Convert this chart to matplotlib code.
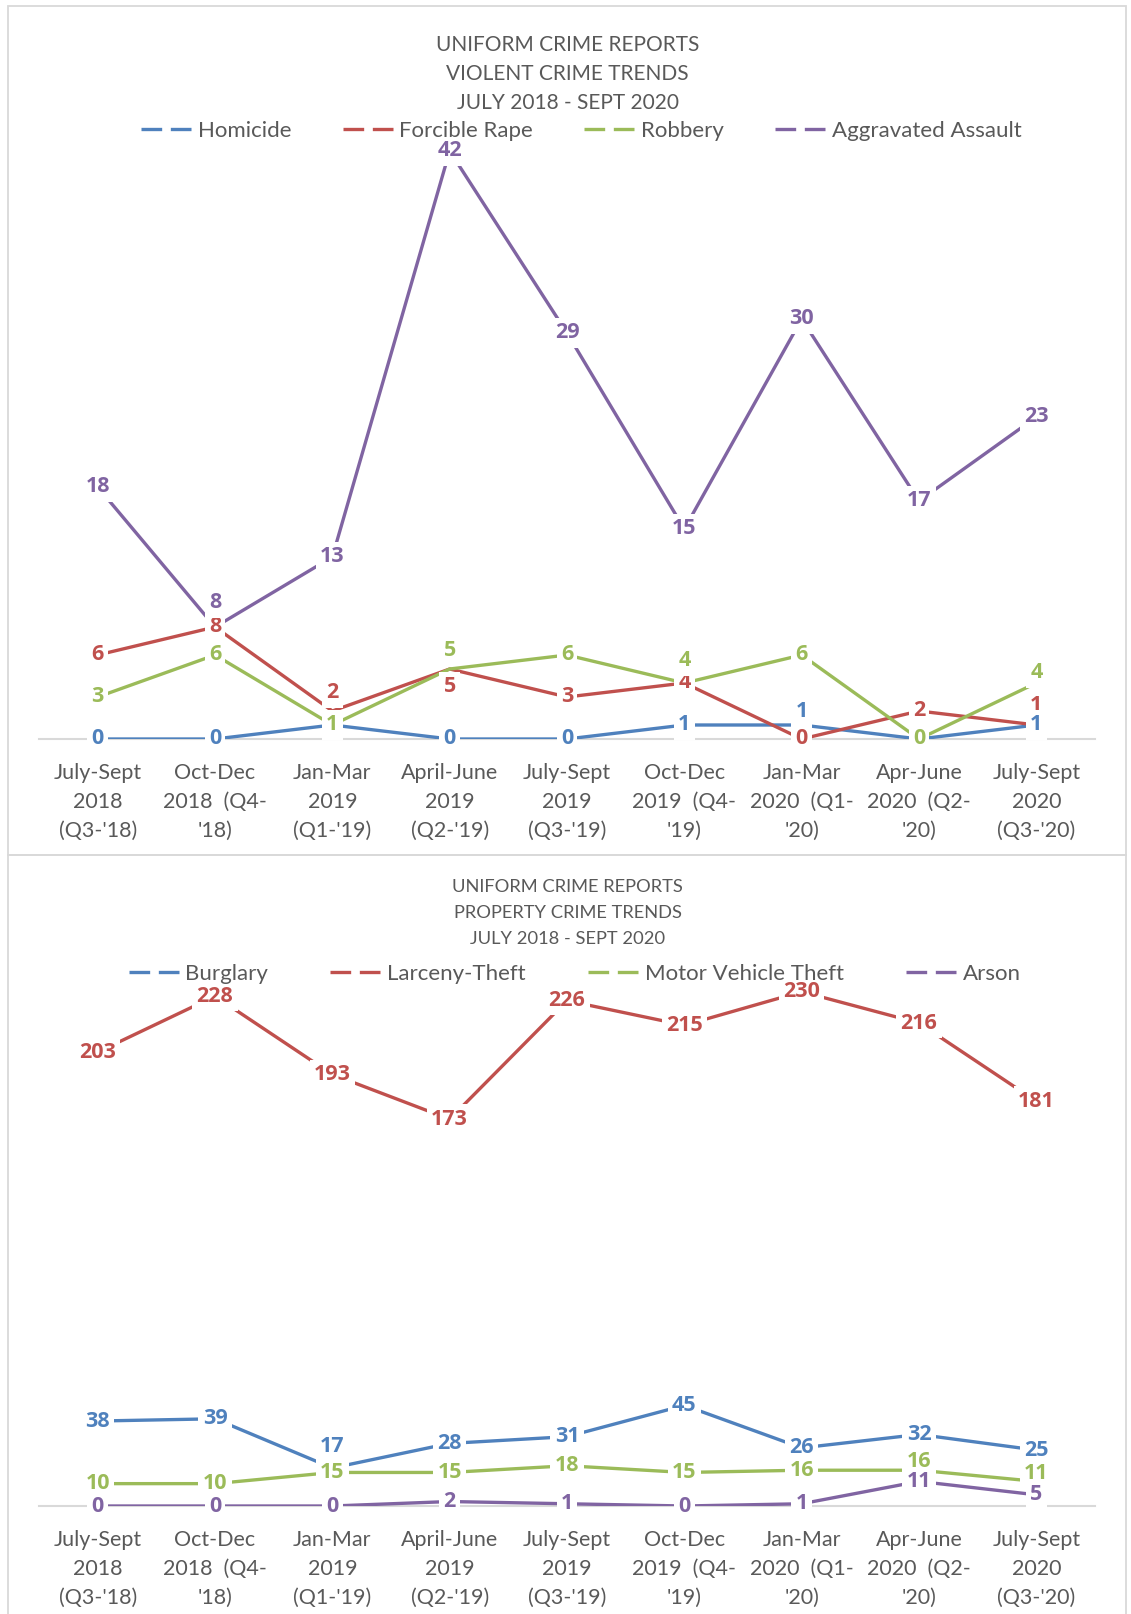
import matplotlib
matplotlib.use('Agg')
import matplotlib.pyplot as plt
from matplotlib.lines import Line2D
from matplotlib.patches import Rectangle

plt.rcParams['font.family'] = ['Lato', 'DejaVu Sans']

# ---- data ----
quarters = ["July-Sept\n2018\n(Q3-'18)", "Oct-Dec\n2018  (Q4-\n'18)",
            "Jan-Mar\n2019\n(Q1-'19)", "April-June\n2019\n(Q2-'19)",
            "July-Sept\n2019\n(Q3-'19)", "Oct-Dec\n2019  (Q4-\n'19)",
            "Jan-Mar\n2020  (Q1-\n'20)", "Apr-June\n2020  (Q2-\n'20)",
            "July-Sept\n2020\n(Q3-'20)"]

violent_names = ['Homicide', 'Forcible Rape', 'Robbery', 'Aggravated Assault']
homicide = [0, 0, 1, 0, 0, 1, 1, 0, 1]
forcible_rape = [6, 8, 2, 5, 3, 4, 0, 2, 1]
robbery = [3, 6, 1, 5, 6, 4, 6, 0, 4]
aggravated_assault = [18, 8, 13, 42, 29, 15, 30, 17, 23]

property_names = ['Burglary', 'Larceny-Theft', 'Motor Vehicle Theft', 'Arson']
burglary = [38, 39, 17, 28, 31, 45, 26, 32, 25]
larceny_theft = [203, 228, 193, 173, 226, 215, 230, 216, 181]
motor_vehicle_theft = [10, 10, 15, 15, 18, 15, 16, 16, 11]
arson = [0, 0, 0, 2, 1, 0, 1, 11, 5]

colors = ['#4F81BD', '#C0504D', '#9BBB59', '#8064A2']
gray = '#595959'

W, H = 1131, 1614
fig = plt.figure(figsize=(W / 100, H / 100), dpi=100)


def fig_axes(left, right, top, bottom):
    # pixel box (from top-left) -> figure fraction
    return fig.add_axes([left / W, 1 - bottom / H, (right - left) / W, (bottom - top) / H])


def box(x0, y0, x1, y1):
    fig.patches.append(Rectangle((x0 / W, 1 - y1 / H), (x1 - x0) / W, (y1 - y0) / H,
                                 transform=fig.transFigure, fill=False,
                                 edgecolor='#D9D9D9', lw=1.3))


def draw_chart(ax, names, series, ymax, offsets, title, title_y, title_size, title_ls,
               legend_y, legend_x, col_space, on_top=()):
    x = range(len(quarters))
    for i, vals in enumerate(series):
        ax.plot(x, vals, color=colors[i], lw=2.4, solid_capstyle='butt', zorder=3)
    for i, vals in enumerate(series):
        for j, v in enumerate(vals):
            dy = offsets.get((i, j), 0)
            ax.annotate(str(v), (j, v), xytext=(0, dy), textcoords='offset pixels',
                        ha='center', va='center', fontsize=15.5, fontweight='bold',
                        family=['Open Sans', 'DejaVu Sans'],
                        color=colors[i], zorder=6 if (i, j) in on_top else 5,
                        annotation_clip=False,
                        bbox=dict(boxstyle='square,pad=0.2', fc='white', ec='none'))
    ax.set_xlim(-0.5, len(quarters) - 0.5)
    ax.set_ylim(0, ymax)
    ax.set_xticks(list(x))
    ax.set_xticklabels(quarters, fontsize=15.5, color=gray, linespacing=1.56)
    ax.tick_params(axis='x', length=0, pad=17)
    ax.set_yticks([])
    for s in ['top', 'left', 'right']:
        ax.spines[s].set_visible(False)
    ax.spines['bottom'].set_color('#D9D9D9')
    ax.spines['bottom'].set_linewidth(1.5)
    ax.patch.set_visible(False)
    fig.text(0.502, 1 - title_y / H, title, ha='center', va='center',
             fontsize=title_size, color=gray, linespacing=title_ls)
    handles = [Line2D([], [], color=c, lw=2.4, linestyle=(0, (6.2, 2.6))) for c in colors]
    fig.legend(handles, names, loc='center', bbox_to_anchor=(legend_x, 1 - legend_y / H),
               ncol=4, frameon=False, fontsize=16, handlelength=2.4, handletextpad=0.15,
               columnspacing=col_space, labelcolor=gray)


box(8, 6, 1126, 855)
box(8, 855, 1126, 1640)

ax1 = fig_axes(39, 1095, 109, 739)
violent_offsets = {(3, 1): 24, (1, 2): 18, (1, 3): -18, (2, 3): 18, (2, 5): 22,
                   (0, 6): 13, (2, 8): 10, (1, 8): 19}
draw_chart(ax1, violent_names, [homicide, forcible_rape, robbery, aggravated_assault], 45,
           violent_offsets, 'UNIFORM CRIME REPORTS\nVIOLENT CRIME TRENDS\nJULY 2018 - SEPT 2020',
           74, 15, 1.58, 131, 0.514, 2.3, on_top=[(0, 8), (0, 6)])

ax2 = fig_axes(39, 1095, 947, 1506)
property_offsets = {(0, 2): 21, (2, 7): 9, (2, 8): 8}
draw_chart(ax2, property_names, [burglary, larceny_theft, motor_vehicle_theft, arson], 250,
           property_offsets, 'UNIFORM CRIME REPORTS\nPROPERTY CRIME TRENDS\nJULY 2018 - SEPT 2020',
           913, 13.2, 1.75, 974, 0.508, 2.8)

fig.savefig('out.png', dpi=100)
